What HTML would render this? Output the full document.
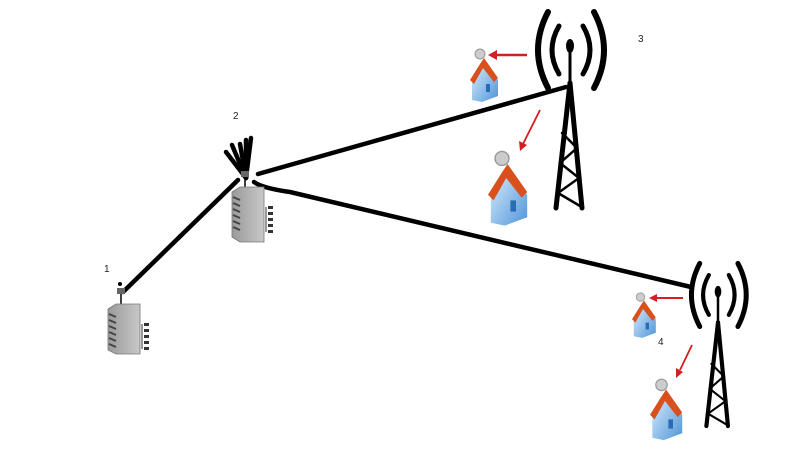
<!DOCTYPE html>
<html><head><meta charset="utf-8"><style>
html,body{margin:0;padding:0;background:#fff;}
svg{display:block;}
text{font-family:"Liberation Sans",sans-serif;font-size:10px;fill:#222;}
</style></head><body>
<svg width="800" height="450" viewBox="0 0 800 450" xmlns="http://www.w3.org/2000/svg">
<defs>
<linearGradient id="hb" x1="0" y1="0" x2="1" y2="1"><stop offset="0" stop-color="#dff0ff"/><stop offset="1" stop-color="#4f95d8"/></linearGradient>
<linearGradient id="bg" x1="0" y1="0" x2="1" y2="0"><stop offset="0" stop-color="#9a9a9a"/><stop offset="1" stop-color="#c8c8c8"/></linearGradient>
</defs>

<!-- links -->
<g stroke="#000" stroke-width="4.5" fill="none" stroke-linecap="round">
<line x1="123" y1="292" x2="238" y2="180"/>
<line x1="258" y1="174" x2="566" y2="87"/>
<path d="M254,182 Q262,188 290,192 L691,287"/>
<!-- node 2 antenna spikes -->
<line x1="246" y1="178" x2="226" y2="152"/>
<line x1="246" y1="178" x2="232" y2="145"/>
<line x1="246" y1="178" x2="240" y2="144"/>
<line x1="246" y1="178" x2="246" y2="140"/>
<line x1="246" y1="178" x2="251" y2="138"/>
</g>

<!-- building 1 -->
<g transform="translate(108,292)">
<rect x="9" y="-4" width="8" height="6" fill="#666"/>
<circle cx="12" cy="-8" r="2" fill="#000"/>
<line x1="13" y1="2" x2="13" y2="12" stroke="#000" stroke-width="1.5"/>
<polygon points="0,17 8,12 32,12 32,62 8,62 0,58" fill="url(#bg)" stroke="#777" stroke-width="0.8"/>
<g stroke="#444" stroke-width="2"><line x1="1" y1="22" x2="8" y2="25"/><line x1="1" y1="28" x2="8" y2="31"/><line x1="1" y1="34" x2="8" y2="37"/><line x1="1" y1="40" x2="8" y2="43"/><line x1="1" y1="46" x2="8" y2="49"/><line x1="1" y1="52" x2="8" y2="55"/></g>
<g fill="#333"><rect x="36" y="31" width="5" height="3"/><rect x="36" y="37" width="5" height="3"/><rect x="36" y="43" width="5" height="3"/><rect x="36" y="49" width="5" height="3"/><rect x="36" y="55" width="5" height="3"/></g>
<line x1="34" y1="32" x2="34" y2="57" stroke="#333"/>
</g>
<!-- building 2 -->
<g transform="translate(232,175)">
<rect x="9" y="-4" width="8" height="6" fill="#666"/>
<line x1="13" y1="2" x2="13" y2="12" stroke="#000" stroke-width="1.5"/>
<polygon points="0,17 8,12 32,12 32,67 8,67 0,62" fill="url(#bg)" stroke="#777" stroke-width="0.8"/>
<g stroke="#444" stroke-width="2"><line x1="1" y1="22" x2="8" y2="25"/><line x1="1" y1="28" x2="8" y2="31"/><line x1="1" y1="34" x2="8" y2="37"/><line x1="1" y1="40" x2="8" y2="43"/><line x1="1" y1="46" x2="8" y2="49"/><line x1="1" y1="52" x2="8" y2="55"/></g>
<g fill="#333"><rect x="36" y="31" width="5" height="3"/><rect x="36" y="37" width="5" height="3"/><rect x="36" y="43" width="5" height="3"/><rect x="36" y="49" width="5" height="3"/><rect x="36" y="55" width="5" height="3"/></g>
<line x1="34" y1="32" x2="34" y2="57" stroke="#333"/>
</g>

<!-- tower 3 -->
<g transform="translate(570,38)" stroke="#000" fill="none" stroke-linecap="round">
<ellipse cx="0" cy="8" rx="4" ry="7" fill="#000" stroke="none"/>
<line x1="0" y1="10" x2="0" y2="50" stroke-width="3"/>
<line x1="0" y1="45" x2="-14" y2="170" stroke-width="5"/>
<line x1="0" y1="45" x2="12" y2="170" stroke-width="5"/>
<path d="M-8,95 L7,110 L-10,125 L9,140 L-12,155 L10,168" stroke-width="2.5"/>
<path d="M-22,-26 Q-42,12 -22,50" stroke-width="6"/>
<path d="M-11,-12 Q-25,12 -11,36" stroke-width="5"/>
<path d="M24,-26 Q44,12 24,50" stroke-width="6"/>
<path d="M13,-12 Q27,12 13,36" stroke-width="5"/>
</g>
<!-- tower 4 -->
<g transform="translate(718,285) scale(0.83)" stroke="#000" fill="none" stroke-linecap="round">
<ellipse cx="0" cy="8" rx="4" ry="7" fill="#000" stroke="none"/>
<line x1="0" y1="10" x2="0" y2="50" stroke-width="3"/>
<line x1="0" y1="45" x2="-14" y2="170" stroke-width="5"/>
<line x1="0" y1="45" x2="12" y2="170" stroke-width="5"/>
<path d="M-8,95 L7,110 L-10,125 L9,140 L-12,155 L10,168" stroke-width="2.5"/>
<path d="M-22,-26 Q-42,12 -22,50" stroke-width="6"/>
<path d="M-11,-12 Q-25,12 -11,36" stroke-width="5"/>
<path d="M24,-26 Q44,12 24,50" stroke-width="6"/>
<path d="M13,-12 Q27,12 13,36" stroke-width="5"/>
</g>

<!-- red arrows -->
<g stroke="#d02020" stroke-width="2.5" fill="#d02020">
<line x1="527" y1="55" x2="495" y2="55"/><polygon points="488,55 497,50 497,60" stroke="none"/>
<line x1="540" y1="110" x2="523" y2="144" stroke-width="1.8"/><polygon points="520,151 519,141 527,145" stroke="none"/>
<line x1="683" y1="298" x2="655" y2="298" stroke-width="2"/><polygon points="649,298 657,294 657,302" stroke="none"/>
<line x1="692" y1="345" x2="680" y2="370" stroke-width="1.8"/><polygon points="676,378 676,368 683,372" stroke="none"/>
</g>

<!-- houses -->
<g id="h1" transform="translate(470,48)">
<circle cx="10" cy="6" r="5" fill="#ccc" stroke="#999"/>
<polygon points="2,52 2,32 14,12 28,32 28,48 12,54" fill="url(#hb)"/>
<polygon points="0,32 10,16 14,10 28,30 24,34 13,20 4,36" fill="#d9501c"/>
<rect x="16" y="36" width="4" height="8" fill="#2a6bb5"/>
</g>
<g transform="translate(488,150) scale(1.4)">
<circle cx="10" cy="6" r="5" fill="#ccc" stroke="#999"/>
<polygon points="2,52 2,32 14,12 28,32 28,48 12,54" fill="url(#hb)"/>
<polygon points="0,32 10,16 14,10 28,30 24,34 13,20 4,36" fill="#d9501c"/>
<rect x="16" y="36" width="4" height="8" fill="#2a6bb5"/>
</g>
<g transform="translate(632,292) scale(0.85)">
<circle cx="10" cy="6" r="5" fill="#ccc" stroke="#999"/>
<polygon points="2,52 2,32 14,12 28,32 28,48 12,54" fill="url(#hb)"/>
<polygon points="0,32 10,16 14,10 28,30 24,34 13,20 4,36" fill="#d9501c"/>
<rect x="16" y="36" width="4" height="8" fill="#2a6bb5"/>
</g>
<g transform="translate(650,378) scale(1.15)">
<circle cx="10" cy="6" r="5" fill="#ccc" stroke="#999"/>
<polygon points="2,52 2,32 14,12 28,32 28,48 12,54" fill="url(#hb)"/>
<polygon points="0,32 10,16 14,10 28,30 24,34 13,20 4,36" fill="#d9501c"/>
<rect x="16" y="36" width="4" height="8" fill="#2a6bb5"/>
</g>

<text x="104" y="272">1</text>
<text x="233" y="119">2</text>
<text x="638" y="42">3</text>
<text x="658" y="345">4</text>
</svg>
</body></html>
